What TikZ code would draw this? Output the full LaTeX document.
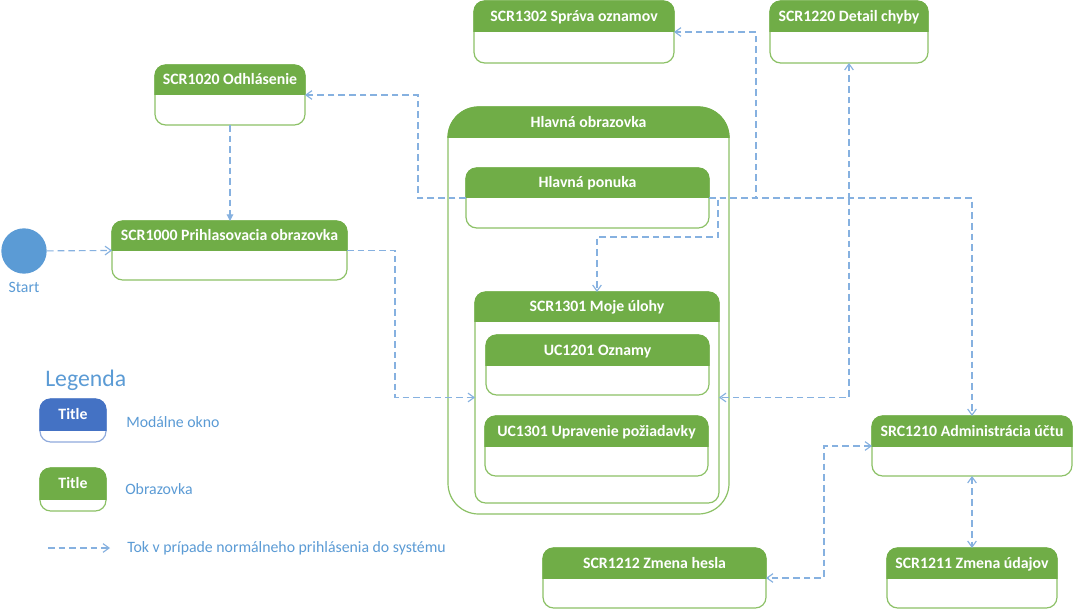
\documentclass[tikz,border=0pt]{standalone}
\usepackage{fontspec}
\setmainfont{Carlito}
\usetikzlibrary{arrows.meta,fit,calc}
\definecolor{hdrG}{HTML}{70AD47}
\definecolor{bordG}{HTML}{8CC166}
\definecolor{hdrB}{HTML}{4472C4}
\definecolor{bordB}{HTML}{8FAADC}
\definecolor{flowC}{HTML}{86B1E0}
\definecolor{txtB}{HTML}{5B9BD5}
\tikzset{
  rc/.style={rounded corners=8pt},
  box/.style={fill=white, line width=0.9pt, rc, inner sep=0pt, outer sep=0pt},
  ttl/.style={text=white, font=\bfseries\fontsize{11.85}{14}\selectfont, inner sep=0pt, anchor=base},
  lbl/.style={text=txtB, font=\fontsize{11.85}{14}\selectfont, inner sep=0pt, anchor=base west},
  flow/.style={draw=flowC, line width=0.85pt, dash pattern=on 5pt off 3pt,
    -{Straight Barb[length=4.5pt,width=6.5pt]}},
  flow2/.style={flow, {Straight Barb[length=4.5pt,width=6.5pt]}-{Straight Barb[length=4.5pt,width=6.5pt]}},
}
\newcommand\scrbox[8]{%
  \node[box, draw=bord#1, fit={(#3,#4) (#5,#6)}] (#2) {};
  \coordinate (#2-hl) at (#3,#7);
  \coordinate (#2-hr) at (#5,#7);
  \begin{scope}
    \clip (#3-2,#4-2) rectangle (#5+2,#7);
    \filldraw[fill=hdr#1, draw=hdr#1, line width=0.9pt, rc] (#3,#4) rectangle (#5,#6);
  \end{scope}
  \node[ttl] (#2-t) at ({(#3+#5)/2},{(#4+#7)/2+5}) {#8};
}
\begin{document}
\begin{tikzpicture}[x=0.75pt,y=-0.75pt]
\useasboundingbox[fill=white] (0,0) rectangle (1074,609);

% start
\node[circle, fill=txtB, minimum size=34pt, inner sep=0pt] (start) at (24,251) {};
\node[text=txtB, font=\fontsize{11.85}{14}\selectfont, inner sep=0pt, anchor=base] (startl) at (24,293) {Start};

% screens
\scrbox{G}{scr1020}{155}{65}{305}{125}{95}{SCR1020 Odhlásenie}
\scrbox{G}{scr1000}{112}{221}{347}{280}{251}{SCR1000 Prihlasovacia obrazovka}
\scrbox{G}{scr1302}{474}{1}{674}{63}{32}{SCR1302 Správa oznamov}
\scrbox{G}{scr1220}{770}{1}{928}{63}{32}{SCR1220 Detail chyby}
\begin{scope}[rc/.style={rounded corners=23pt}]
\scrbox{G}{hlavna}{448}{107}{729}{514}{138}{Hlavná obrazovka}
\end{scope}
\scrbox{G}{hponuka}{466}{168}{709}{228}{198}{Hlavná ponuka}
\scrbox{G}{moje}{475}{292}{719}{503}{322}{SCR1301 Moje úlohy}
\scrbox{G}{uc1201}{486}{335}{709}{395}{366}{UC1201 Oznamy}
\scrbox{G}{uc1301}{485}{416}{708}{476}{446}{UC1301 Upravenie požiadavky}
\scrbox{G}{src1210}{872}{416}{1072}{476}{446}{SRC1210 Administrácia účtu}
\scrbox{G}{scr1211}{887}{548}{1057}{608}{578}{SCR1211 Zmena údajov}
\scrbox{G}{scr1212}{543}{548}{766}{608}{578}{SCR1212 Zmena hesla}

% legend
\node[text=txtB, font=\fontsize{17.8}{20}\selectfont, inner sep=0pt, anchor=base west] (legt) at (45,387) {Legenda};
\scrbox{B}{legB}{40}{399}{106}{442}{430}{Title}
\scrbox{G}{legG}{40}{468}{106}{511}{499}{Title}
\node[lbl] (legBl) at (126,427) {Modálne okno};
\node[lbl] (legGl) at (125,494) {Obrazovka};
\node[lbl] (legFl) at (127,552) {Tok v prípade normálneho prihlásenia do systému};
\coordinate (la) at (48,548);
\coordinate (lb) at (110,548);
\draw[flow] (la) -- (lb);

% connectors
\draw[flow] (start) -- (scr1000.west);
\draw[flow, -{Triangle[length=5pt,width=5pt]}] (scr1020.south) -- (scr1020.south |- scr1000.north);
\draw[flow] (scr1000.east) -- ++(48,0) |- (moje.west);
\draw[flow] (hponuka-hl) -- ++(-48,0) |- (scr1020.east);
\draw[flow] (hponuka-hr) -- ++(9,0) -- ++(0,39) -| (moje.north);
\draw[flow] (hponuka-hr) -- ++(47,0) |- (scr1302.east);
\draw[flow] (hponuka-hr) -| (scr1220.south);
\draw[flow] (hponuka-hr) -| (src1210.north);
\draw[flow] (scr1220.south |- hponuka-hr) |- (moje.east);
\draw[flow2] (src1210.south) -- (scr1211.north);
\draw[flow2] (src1210-hl) -- ++(-48,0) |- (scr1212.east);
\end{tikzpicture}
\end{document}
